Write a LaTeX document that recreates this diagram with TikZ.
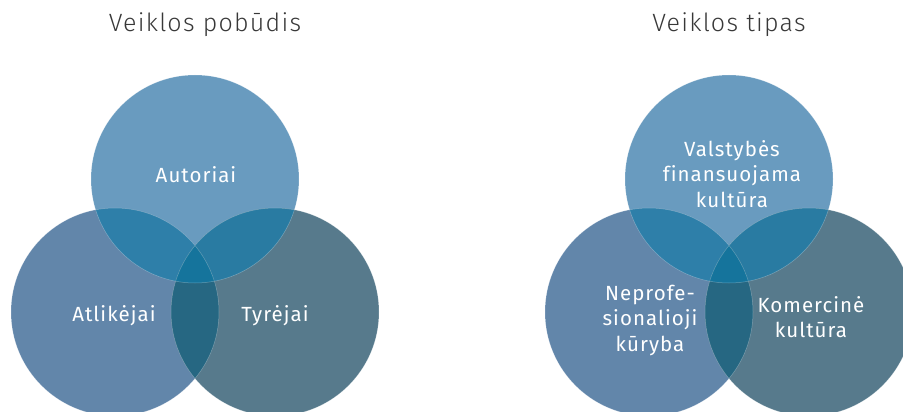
\documentclass[tikz,border=0pt]{standalone}
\usepackage{fontspec}
\setmainfont{Fira Sans}
\newfontfamily\titlefont{Fira Sans Light}[LetterSpace=5]
\newfontfamily\lblfont{Fira Sans}[LetterSpace=5, Ligatures=NoCommon]
\usetikzlibrary{positioning}

\definecolor{topc}{HTML}{699BBF}
\definecolor{leftc}{HTML}{6286AA}
\definecolor{rightc}{HTML}{577A8C}
\definecolor{tlc}{HTML}{2E7FA9}
\definecolor{trc}{HTML}{297BA2}
\definecolor{lrc}{HTML}{266782}
\definecolor{midc}{HTML}{15749C}

\begin{document}
\begin{tikzpicture}[x=1pt, y=-1pt,
    lbl/.style={text=white, font=\lblfont\fontsize{20.5}{25.5}\selectfont, align=center},
    ttl/.style={text=black!78, font=\titlefont\fontsize{25}{30}\selectfont, anchor=base}]
    \useasboundingbox (0,0) rectangle (903,412);
    \clip (0,0) rectangle (903,412);

    % circle centres of both diagrams
    \coordinate (aT) at (195,179);
    \coordinate (aL) at (115,312);
    \coordinate (aR) at (275,312);
    \coordinate (bT) at (729,179);
    \coordinate (bL) at (649,312);
    \coordinate (bR) at (809,312);

    \foreach \d in {a,b} {
        % single circles
        \fill[topc] (\d T) circle[radius=104pt];
        \fill[leftc] (\d L) circle[radius=104pt];
        \fill[rightc] (\d R) circle[radius=104pt];
        % pairwise overlaps
        \begin{scope}
            \clip (\d T) circle[radius=104pt];
            \fill[tlc] (\d L) circle[radius=104pt];
        \end{scope}
        \begin{scope}
            \clip (\d T) circle[radius=104pt];
            \fill[trc] (\d R) circle[radius=104pt];
        \end{scope}
        \begin{scope}
            \clip (\d L) circle[radius=104pt];
            \fill[lrc] (\d R) circle[radius=104pt];
        \end{scope}
        % middle part
        \begin{scope}
            \clip (\d T) circle[radius=104pt];
            \clip (\d L) circle[radius=104pt];
            \fill[midc] (\d R) circle[radius=104pt];
        \end{scope}
        % thin edges
        \draw[white, opacity=0.3, line width=0.5pt] (\d T) circle[radius=104pt]
            (\d L) circle[radius=104pt] (\d R) circle[radius=104pt];
    }

    % titles
    \node[ttl] (title1) at (205,32) {Veiklos pobūdis};
    \node[ttl] (title2) at (729,32) {Veiklos tipas};

    % labels, left diagram
    \node[lbl, anchor=base] (autoriai) at (196,182) {Autoriai};
    \node[lbl, anchor=base] (atlikejai) at (114,321) {Atlikėjai};
    \node[lbl, anchor=base] (tyrejai) at (275,321) {Tyrėjai};

    % labels, right diagram
    \node[lbl] (valstybes) at (732,174) {Valstybės\\finansuojama\\kultūra};
    \node[lbl] (neprof) at (650,320) {Neprofe-\\sionalioji\\kūryba};
    \node[lbl] (komercine) at (811,317) {Komercinė\\kultūra};
\end{tikzpicture}
\end{document}
